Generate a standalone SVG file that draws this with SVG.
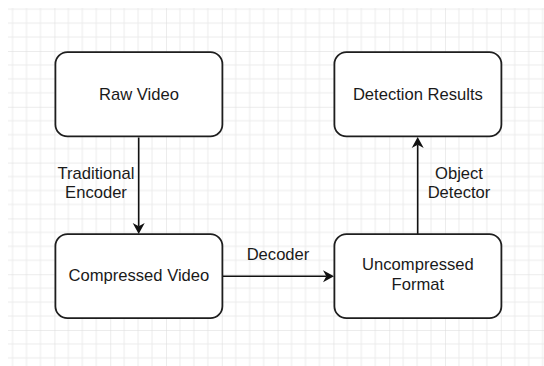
<svg xmlns="http://www.w3.org/2000/svg" width="544" height="366" viewBox="0 0 544 366">
  <style>
    .box { fill: #ffffff; stroke: #1e1e1e; stroke-width: 1.8; }
    .t { font-family: "Liberation Sans", Arial, sans-serif; font-size: 16.6px; fill: #1a1a1a; text-anchor: middle; }
    .edge { fill: none; stroke: #111111; stroke-width: 1.6; }
  </style>
  <defs>
    <pattern id="grid" patternUnits="userSpaceOnUse" x="54.4" y="51" width="55.8" height="55.8">
      <path d="M13.95 0V55.8M27.9 0V55.8M41.85 0V55.8M0 13.95H55.8M0 27.9H55.8M0 41.85H55.8" stroke="#ececec" stroke-width="1" fill="none"/>
      <path d="M0 0V55.8M0 0H55.8" stroke="#dadada" stroke-width="1" fill="none"/>
    </pattern>
    <marker id="arrow" markerUnits="userSpaceOnUse" viewBox="0 -7 11 14" markerWidth="11" markerHeight="14" refX="3.3" refY="0" orient="auto">
      <path d="M11 0L0 -6L3.3 0L0 6Z" fill="#111111"/>
    </marker>
  </defs>
  <rect x="0" y="0" width="544" height="366" fill="#ffffff"/>
  <rect x="8" y="8" width="536" height="358" fill="url(#grid)"/>

  <g id="connectors">
    <path class="edge" d="M138.7 137.5V226.3" marker-end="url(#arrow)"/>
    <text class="t" x="96" y="178.5">Traditional</text>
    <text class="t" x="96" y="198">Encoder</text>
    <path class="edge" d="M222.5 276.3H326.3" marker-end="url(#arrow)"/>
    <text class="t" x="278" y="260">Decoder</text>
    <path class="edge" d="M417.7 234V144.7" marker-end="url(#arrow)"/>
    <text class="t" x="459" y="179.3">Object</text>
    <text class="t" x="459" y="198.3">Detector</text>
  </g>

  <g id="raw-video">
    <rect class="box" x="55.4" y="52.2" width="167" height="84.2" rx="12" ry="12"/>
    <text class="t" x="138.9" y="99.5">Raw Video</text>
  </g>
  <g id="detection-results">
    <rect class="box" x="334.4" y="52.2" width="167" height="84.2" rx="12" ry="12"/>
    <text class="t" x="417.9" y="99.5">Detection Results</text>
  </g>
  <g id="compressed-video">
    <rect class="box" x="55.4" y="234.2" width="167" height="84" rx="12" ry="12"/>
    <text class="t" x="138.9" y="280.7">Compressed Video</text>
  </g>
  <g id="uncompressed-format">
    <rect class="box" x="334.4" y="234.2" width="167" height="84" rx="12" ry="12"/>
    <text class="t" x="417.9" y="270">Uncompressed</text>
    <text class="t" x="417.9" y="290">Format</text>
  </g>
</svg>
